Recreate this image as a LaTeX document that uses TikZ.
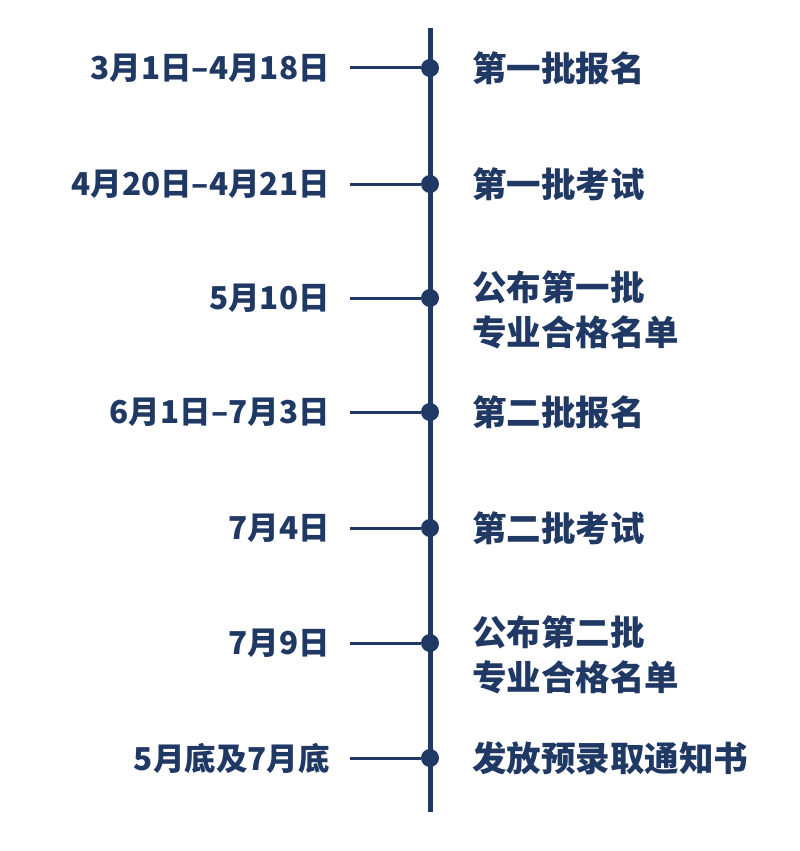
\documentclass[tikz,border=0pt]{standalone}
\usepackage{fontspec}
\newfontfamily\cjk{Noto Sans CJK SC}
\usepackage{tikz}
\usetikzlibrary{positioning}
\definecolor{navy}{RGB}{31,56,100}

\begin{document}
\begin{tikzpicture}[x=1pt,y=-1pt,line cap=round,line join=round,
font=\cjk\bfseries\fontsize{34.5}{45}\selectfont,
dot/.style={circle,fill=navy,inner sep=0pt,minimum size=18pt},
date/.style={anchor=east,text=navy,inner sep=0pt,font=\cjk\bfseries\fontsize{31.5}{40}\selectfont},
event/.style={anchor=west,text=navy,inner sep=0pt,align=left}]
\useasboundingbox (0,0) rectangle (800,851);
\coordinate (top) at (430,28);
\coordinate (bottom) at (430,812);
\draw[navy,line width=5pt,line cap=butt] (top)--(bottom);
\foreach \i/\y/\d in {1/68/{3月1日–4月18日},2/184/{4月20日–4月21日},3/298/{5月10日},4/412/{6月1日–7月3日},5/528/{7月4日},6/643/{7月9日},7/758/{5月底及7月底}}{
\node[dot] (d\i) at (430,\y) {};
\coordinate (t\i) at (350,\y);
\draw[navy,line width=3pt,line cap=butt] (t\i)--(d\i);
\node[date] (l\i) at (330,\y) {\d};}
\node[event] (e1) at (472,68) {第一批报名};
\node[event] (e2) at (472,184) {第一批考试};
\node[event] (e3) at (472,310) {公布第一批\\专业合格名单};
\node[event] (e4) at (472,412) {第二批报名};
\node[event] (e5) at (472,528) {第二批考试};
\node[event] (e6) at (472,655) {公布第二批\\专业合格名单};
\node[event] (e7) at (472,758) {发放预录取通知书};
\end{tikzpicture}
\end{document}
